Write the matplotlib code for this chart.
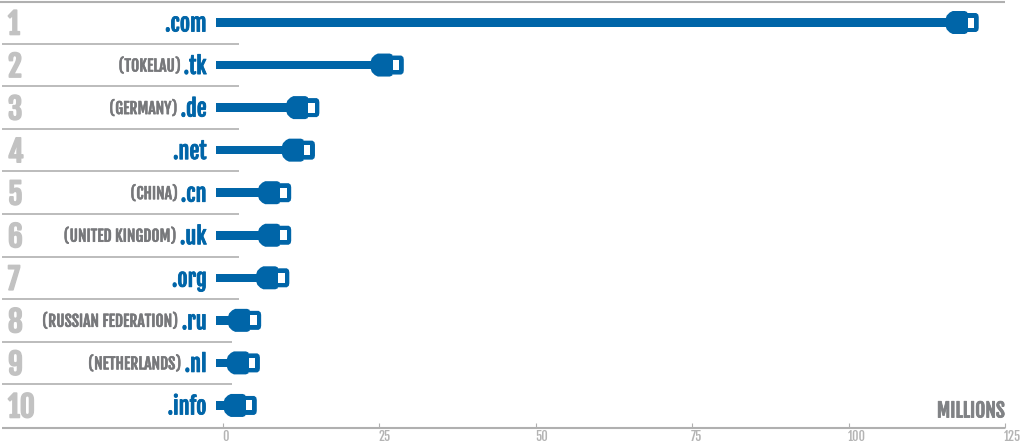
import matplotlib
matplotlib.use("Agg")
import matplotlib.pyplot as plt
import matplotlib.patheffects as pe
from matplotlib.lines import Line2D
from matplotlib.patches import Polygon, Rectangle
from matplotlib.transforms import ScaledTranslation

# ── Data ──────────────────────────────────────────────
ranks = [1, 2, 3, 4, 5, 6, 7, 8, 9, 10]
tlds = [".com", ".tk", ".de", ".net", ".cn", ".uk", ".org", ".ru", ".nl", ".info"]
countries = ["", "(TOKELAU)", "(GERMANY)", "", "(CHINA)", "(UNITED KINGDOM)", "",
             "(RUSSIAN FEDERATION)", "(NETHERLANDS)", ""]
values = [120.8, 28.9, 15.4, 14.7, 10.9, 10.9, 10.6, 6.1, 5.9, 5.4]
xticks = [0, 25, 50, 75, 100, 125]

# ── Style ─────────────────────────────────────────────
BLUE = "#0065a8"
GREY = "#77787b"
RANK = "#c2c2c2"
RULE = "#b0b0b0"
TICK = "#b4b4b4"
FONT = ["Fjalla One", "Archivo Narrow", "Liberation Sans", "DejaVu Sans"]

W, H = 1021, 447
X0, X1 = 223, 1005   # pixel position of 0 and 125
Y_TOP, Y_BOT = 2, 428
ROW0, ROW_STEP = 22.5, 42.55

plt.rcParams["font.family"] = FONT

fig = plt.figure(figsize=(W / 100, H / 100), dpi=100, facecolor="white")
ax = fig.add_axes([X0 / W, 1 - Y_BOT / H, (X1 - X0) / W, (Y_BOT - Y_TOP) / H])
ax.set_xlim(0, 125)
ax.set_ylim(1 + (Y_BOT - ROW0) / ROW_STEP, 1 + (Y_TOP - ROW0) / ROW_STEP)
ax.patch.set_alpha(0)

px = 125 / (X1 - X0)   # data units per pixel, x
py = 1 / ROW_STEP      # data units per pixel, y


def fig_line(x0, x1, y, lw=1.2):
    fig.add_artist(Line2D([x0 / W, x1 / W], [1 - y / H, 1 - y / H],
                          color=RULE, lw=lw, solid_capstyle="butt"))


def heavy(color, lw=0.5):
    # the font has no bold cut, so thicken it with a thin stroke
    return [pe.withStroke(linewidth=lw, foreground=color)]


def draw_plug(val, rank):
    # outlines in pixels relative to the tip of the plug
    tip_pts = [(-13, -9.5), (-2.5, -9.5), (-0.5, -8), (0, -5.5), (0, 5.5), (-0.5, 8),
               (-2.5, 9.5), (-13, 9.5)]
    head_pts = [(-33, -4), (-32, -7), (-29, -10), (-26, -11.5), (-14, -11.5), (-11.5, -10.5),
                (-11.5, 10.5), (-14, 11.5), (-26, 11.5), (-29, 10), (-32, 7), (-33, 4)]
    tip = [(val + x * px, rank + y * py) for x, y in tip_pts]
    head = [(val + x * px, rank + y * py) for x, y in head_pts]
    ax.add_patch(Polygon(tip, closed=True, fc=BLUE, ec="none", zorder=3))
    ax.add_patch(Rectangle((val - 11 * px, rank - 5 * py), 6.5 * px, 10 * py,
                           fc="white", ec="none", zorder=4))
    ax.add_patch(Polygon(head, closed=True, fc=BLUE, ec="none", zorder=3))


# bars
start = -7 * px
for rank, val in zip(ranks, values):
    ax.barh(rank, val - 20 * px - start, left=start, height=8.5 * py, color=BLUE, zorder=2,
            clip_on=False)
    draw_plug(val, rank)

# row labels
for rank, tld, country in zip(ranks, tlds, countries):
    ax.text(8 / W, 1 - (ROW0 + ROW_STEP * (rank - 1) + 2) / H, str(rank), transform=fig.transFigure,
            color=RANK, fontsize=21, ha="left", va="center", path_effects=heavy(RANK, 1.2))
    t = ax.text(206.5 / W, 1 - (ROW0 + ROW_STEP * (rank - 1) + 1.5) / H, tld, transform=fig.transFigure,
                color=BLUE, fontsize=16, ha="right", va="center", path_effects=heavy(BLUE, 0.6))
    if country:
        ax.annotate(country, xy=(0, 0.5), xycoords=t, xytext=(-2, 0), textcoords="offset points",
                    color=GREY, fontsize=11.3, ha="right", va="center",
                    path_effects=heavy(GREY, 0.4))

# rules between rows
for i in range(1, 10):
    fig_line(2, 239 if i < 8 else 232, ROW0 + ROW_STEP * (i - 0.5))
fig_line(0, X1, Y_TOP, lw=1.5)
fig_line(2, X1, Y_BOT, lw=1.5)

# axis
for side in ["top", "left", "right", "bottom"]:
    ax.spines[side].set_visible(False)
ax.set_yticks([])
ax.set_xticks(xticks)
ax.tick_params(axis="x", direction="in", length=3.5, width=0.8, color=RULE, labelcolor=TICK,
               labelsize=9, pad=1)
nudge = ScaledTranslation(-1 / 100, 0, fig.dpi_scale_trans)
for lab in ax.get_xticklabels():
    lab.set_ha("left")
    lab.set_transform(lab.get_transform() + nudge)

fig.text(X1 / W, 1 - 411 / H, "MILLIONS", color="#808285", fontsize=14, ha="right", va="center",
         path_effects=heavy("#808285", 0.6))

fig.savefig("out.png", dpi=100, facecolor="white")
